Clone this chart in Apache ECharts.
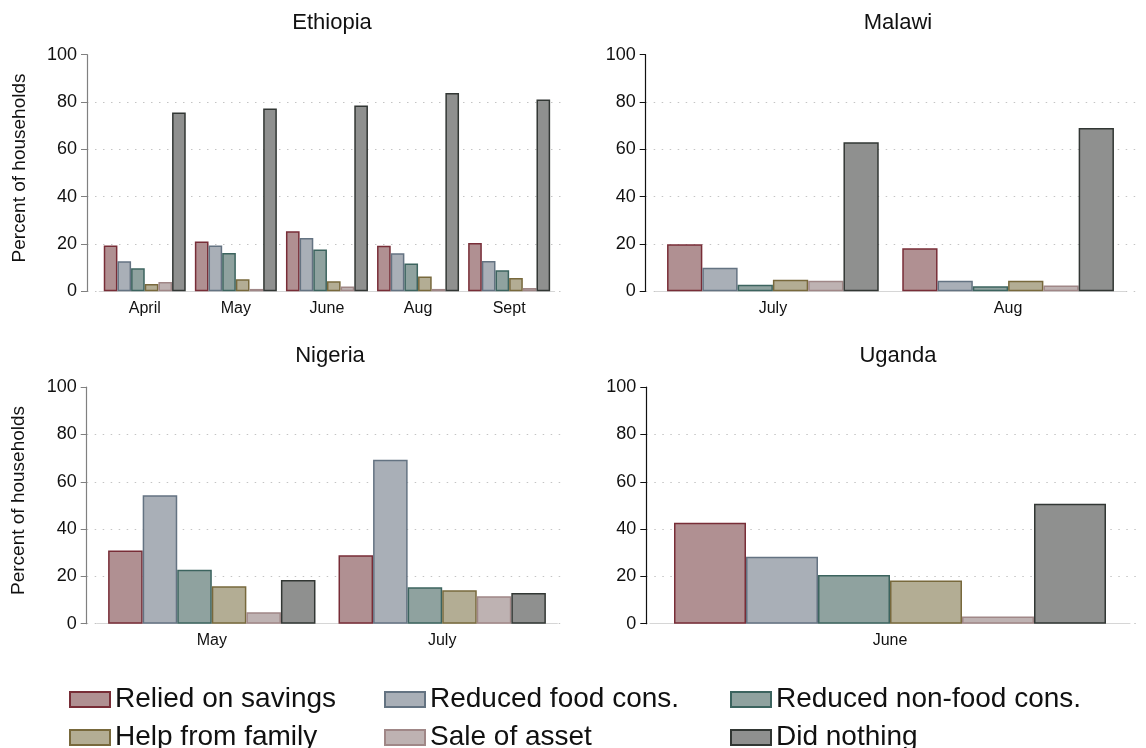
<!DOCTYPE html>
<html>
<head>
<meta charset="utf-8">
<script src="https://cdn.jsdelivr.net/npm/echarts@6/dist/echarts.min.js"></script>
<style>
  html, body { margin: 0; padding: 0; background: #fff; }
  #chart { width: 1146px; height: 748px; }
</style>
</head>
<body>
<div id="chart"></div>
<script>
// Coping strategies, percent of households, by survey round
const strategies = ['Relied on savings', 'Reduced food cons.', 'Reduced non-food cons.',
                    'Help from family', 'Sale of asset', 'Did nothing'];

const ethiopiaRounds = ['April', 'May', 'June', 'Aug', 'Sept'];
const ethiopiaValues = [
  [19.4, 21.1, 25.4, 19.3, 20.4],
  [12.7, 19.4, 22.5, 16.1, 12.8],
  [9.7, 16.2, 17.7, 11.8, 8.9],
  [3.1, 5.1, 4.2, 6.3, 5.6],
  [3.9, 1.0, 2.0, 1.0, 1.4],
  [75.6, 77.3, 78.5, 83.8, 81.1]
];

const malawiRounds = ['July', 'Aug'];
const malawiValues = [
  [19.9, 18.2],
  [10.0, 4.5],
  [2.8, 2.1],
  [4.9, 4.5],
  [4.5, 2.4],
  [63.0, 69.0]
];

const nigeriaRounds = ['May', 'July'];
const nigeriaValues = [
  [31.0, 28.9],
  [54.3, 69.3],
  [22.8, 15.4],
  [15.8, 14.1],
  [4.8, 11.6],
  [18.5, 13.0]
];

const ugandaRounds = ['June'];
const ugandaValues = [
  [42.7],
  [28.3],
  [20.6],
  [18.3],
  [3.0],
  [50.7]
];

const yTicks = { min: 0, max: 100, interval: 20 };

// Styling
const fills = ['#B09092', '#A9AFB7', '#8FA29F', '#B3AD94', '#BEB2B2', '#8F908F'];
const borders = ['#782D37', '#647382', '#3C645F', '#78693C', '#A08787', '#323734'];

const panels = [
  { title: 'Ethiopia', rounds: ethiopiaRounds, values: ethiopiaValues,
    frame: { left: 87, top: 54.7, width: 477, height: 236.6 },
    bars: { left: 99.2, width: 455.5 }, titleX: 327, titleY: 7, axisColor: '#808080', yName: true },
  { title: 'Malawi', rounds: malawiRounds, values: malawiValues,
    frame: { left: 645.7, top: 54.7, width: 495, height: 236.6 },
    bars: { left: 655.3, width: 470.4 }, titleX: 893, titleY: 7, axisColor: '#111', yName: false },
  { title: 'Nigeria', rounds: nigeriaRounds, values: nigeriaValues,
    frame: { left: 86.7, top: 387.2, width: 477, height: 236.5 },
    bars: { left: 96.6, width: 460.8 }, titleX: 325, titleY: 340, axisColor: '#808080', yName: true },
  { title: 'Uganda', rounds: ugandaRounds, values: ugandaValues,
    frame: { left: 646.3, top: 387.2, width: 494, height: 236.5 },
    bars: { left: 650, width: 480 }, titleX: 893, titleY: 340, axisColor: '#111', yName: false }
];

const FONT = 'Liberation Sans, Arial, sans-serif';
const grid = [], xAxis = [], yAxis = [], series = [], title = [];

panels.forEach((p) => {
  const gFrame = grid.length;
  grid.push({ left: p.frame.left, top: p.frame.top, width: p.frame.width, height: p.frame.height, containLabel: false });
  const gBars = grid.length;
  grid.push({ left: p.bars.left, top: p.frame.top, width: p.bars.width, height: p.frame.height, containLabel: false });

  // frame grid: y scale, ticks, dotted gridlines
  xAxis.push({ gridIndex: gFrame, type: 'value', min: 0, max: 1, show: false });
  yAxis.push({
    gridIndex: gFrame, type: 'value', min: yTicks.min, max: yTicks.max, interval: yTicks.interval,
    name: p.yName ? 'Percent of households' : '',
    nameLocation: 'middle', nameGap: 58, nameRotate: 90,
    nameTextStyle: { fontFamily: FONT, fontSize: 19, color: '#111', padding: [0, 0, 0, 10] },
    axisLine: { show: true, lineStyle: { color: p.axisColor, width: 1.2 } },
    axisTick: { show: true, inside: false, length: 6, lineStyle: { color: p.axisColor, width: 1 } },
    axisLabel: { fontFamily: FONT, fontSize: 18, color: '#111', margin: 10 },
    splitLine: { show: true, showMaxLine: false, lineStyle: { color: '#c4c4c4', width: 1, type: [1.5, 6.5] } }
  });

  // bar grid: categories
  xAxis.push({
    gridIndex: gBars, type: 'category', data: p.rounds,
    axisLine: { show: true, lineStyle: { color: '#d6d6d6', width: 1 } },
    axisTick: { show: false },
    axisLabel: { fontFamily: FONT, fontSize: 16, color: '#111', margin: 9 }
  });
  yAxis.push({ gridIndex: gBars, type: 'value', min: yTicks.min, max: yTicks.max, interval: yTicks.interval, show: false, splitLine: { show: false } });

  const xi = xAxis.length - 1, yi = yAxis.length - 1;
  strategies.forEach((name, k) => {
    series.push({
      type: 'bar', name, xAxisIndex: xi, yAxisIndex: yi,
      data: p.values[k],
      barGap: '0%', barCategoryGap: '10%',
      itemStyle: { color: fills[k], borderColor: borders[k], borderWidth: 1.5 },
      emphasis: { disabled: true },
      animation: false
    });
  });

  title.push({
    text: p.title, left: p.titleX, top: p.titleY, textAlign: 'center',
    textStyle: { fontFamily: FONT, fontSize: 22, fontWeight: 'normal', color: '#111' }
  });
});

// legend: three columns, two rows
const legendCols = [69, 384, 730];
const legendRows = [680, 718];
const legend = strategies.map((name, k) => ({
  data: [name],
  left: legendCols[k % 3], top: legendRows[Math.floor(k / 3)],
  padding: 0,
  orient: 'horizontal', icon: 'rect',
  itemWidth: 40, itemHeight: 15, itemGap: 0,
  textStyle: { fontFamily: FONT, fontSize: 28, color: '#111', lineHeight: 30, padding: [0, 0, 9, 0] },
  selectedMode: false
}));

const chart = echarts.init(document.getElementById('chart'), null, { renderer: 'canvas' });
chart.setOption({
  animation: false,
  backgroundColor: '#fff',
  title, grid, xAxis, yAxis, series, legend
});
</script>
</body>
</html>
